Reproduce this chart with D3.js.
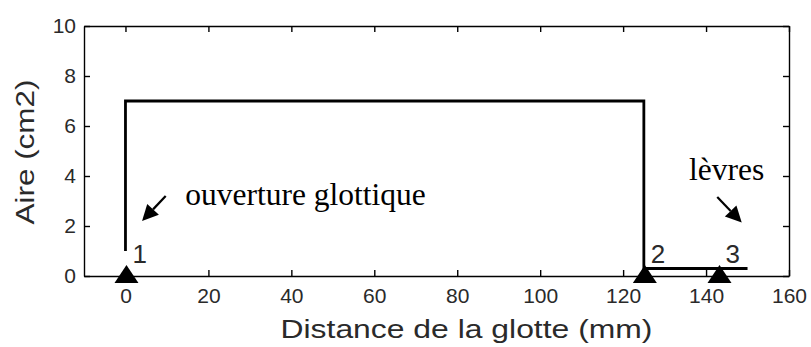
<!DOCTYPE html>
<html>
<head>
<meta charset="utf-8">
<script src="https://cdn.jsdelivr.net/npm/d3@7"></script>
<style>
  html, body { margin: 0; padding: 0; background: #fff; }
  svg { display: block; }
  .sans { font-family: "Liberation Sans", Arial, sans-serif; }
  .serif { font-family: "Liberation Serif", "Times New Roman", serif; }
</style>
</head>
<body>
<svg id="chart" width="811" height="347"></svg>
<script>
// Area function of the simplified vocal tract (distance in mm, area in cm2)
const distance = [0, 0, 125, 125, 150];
const area     = [1, 7, 7, 0.3, 0.3];

// Reference points along the tract (triangle markers on the axis)
const pointX     = [0, 125, 143];
const pointLabel = ["1", "2", "3"];

const xTicks = [0, 20, 40, 60, 80, 100, 120, 140, 160];
const yTicks = [0, 2, 4, 6, 8, 10];

const xTitle = "Distance de la glotte (mm)";
const yTitle = "Aire (cm2)";

// Annotations: text and arrow, in data units
const notes = [
  { text: "ouverture glottique", tx: 14.4, ty: 2.84, from: [9.7, 3.2], to: [4.0, 2.2] },
  { text: "lèvres", tx: 135.9, ty: 3.84, from: [142.7, 3.16], to: [148.6, 2.14] }
];

const svg = d3.select("#chart");
const plotL = 84, plotR = 789, plotT = 26, plotB = 276;

const x = d3.scaleLinear().domain([-10, 160]).range([plotL, plotR]);
const y = d3.scaleLinear().domain([0, 10]).range([plotB, plotT]);

const tickLen = 6;
const textColor = "#2a2a2a";

// Box axes with inward ticks on all four sides
const gAx = svg.append("g").attr("class", "sans");
function styleAxis(g) {
  g.select(".domain").attr("stroke", "#000").attr("stroke-width", 1.4);
  g.selectAll(".tick line").attr("stroke", "#000").attr("stroke-width", 1.4);
}
gAx.append("g").attr("transform", `translate(0,${plotB})`)
  .call(d3.axisBottom(x).tickValues(xTicks).tickSizeInner(-tickLen).tickSizeOuter(0).tickPadding(12))
  .call(styleAxis)
  .call(g => g.selectAll("text").attr("font-size", 21).attr("fill", textColor)
    .attr("font-family", "Liberation Sans, Arial, sans-serif"));
gAx.append("g").attr("transform", `translate(0,${plotT})`)
  .call(d3.axisTop(x).tickValues(xTicks).tickSizeInner(-tickLen).tickSizeOuter(0).tickFormat(""))
  .call(styleAxis);
gAx.append("g").attr("transform", `translate(${plotL},0)`)
  .call(d3.axisLeft(y).tickValues(yTicks).tickSizeInner(-tickLen).tickSizeOuter(0).tickPadding(8))
  .call(styleAxis)
  .call(g => g.selectAll("text").attr("font-size", 21).attr("fill", textColor)
    .attr("font-family", "Liberation Sans, Arial, sans-serif"));
gAx.append("g").attr("transform", `translate(${plotR},0)`)
  .call(d3.axisRight(y).tickValues(yTicks).tickSizeInner(-tickLen).tickSizeOuter(0).tickFormat(""))
  .call(styleAxis);

// Axis titles
svg.append("text").attr("class", "sans")
  .attr("x", (x(-10) + x(160)) / 2 + 30).attr("y", 338)
  .attr("text-anchor", "middle").attr("font-size", 26).attr("fill", textColor)
  .attr("textLength", 372).attr("lengthAdjust", "spacingAndGlyphs")
  .text(xTitle);
svg.append("text").attr("class", "sans")
  .attr("transform", `translate(34,${(y(0) + y(10)) / 2 + 1}) rotate(-90)`)
  .attr("text-anchor", "middle").attr("font-size", 26).attr("fill", textColor)
  .attr("textLength", 145).attr("lengthAdjust", "spacingAndGlyphs")
  .text(yTitle);

// Area function line
const line = d3.line().x((d, i) => x(distance[i])).y((d, i) => y(area[i]));
svg.append("path")
  .datum(distance)
  .attr("d", line)
  .attr("fill", "none").attr("stroke", "#000").attr("stroke-width", 2.8)
  .attr("stroke-linejoin", "miter");

// Triangle markers on the axis
svg.append("g").selectAll("path.marker").data(pointX).join("path")
  .attr("class", "marker")
  .attr("d", d => { const cx = x(d) + 1, cy = y(0); return `M${cx},${cy - 11}L${cx + 12},${cy + 7}L${cx - 12},${cy + 7}Z`; })
  .attr("fill", "#000");

// Point numbers
svg.append("g").attr("class", "sans").selectAll("text").data(pointX).join("text")
  .attr("x", d => x(d) + 7).attr("y", y(0.52))
  .attr("font-size", 26).attr("fill", textColor)
  .text((d, i) => pointLabel[i]);

// Annotations with arrows
const gNotes = svg.append("g");
notes.forEach(n => {
  gNotes.append("text").attr("class", "serif")
    .attr("x", x(n.tx)).attr("y", y(n.ty))
    .attr("font-size", 31.5).attr("fill", "#000")
    .text(n.text);
  const x1 = x(n.from[0]), y1 = y(n.from[1]), x2 = x(n.to[0]), y2 = y(n.to[1]);
  const ang = Math.atan2(y2 - y1, x2 - x1);
  const hl = 16, hw = 8;
  const bx = x2 - hl * Math.cos(ang), by = y2 - hl * Math.sin(ang);
  gNotes.append("line")
    .attr("x1", x1).attr("y1", y1).attr("x2", bx).attr("y2", by)
    .attr("stroke", "#000").attr("stroke-width", 2.2);
  const px = -Math.sin(ang), py = Math.cos(ang);
  gNotes.append("path")
    .attr("d", `M${x2},${y2}L${bx + hw * px},${by + hw * py}L${bx - hw * px},${by - hw * py}Z`)
    .attr("fill", "#000");
});
</script>
</body>
</html>
